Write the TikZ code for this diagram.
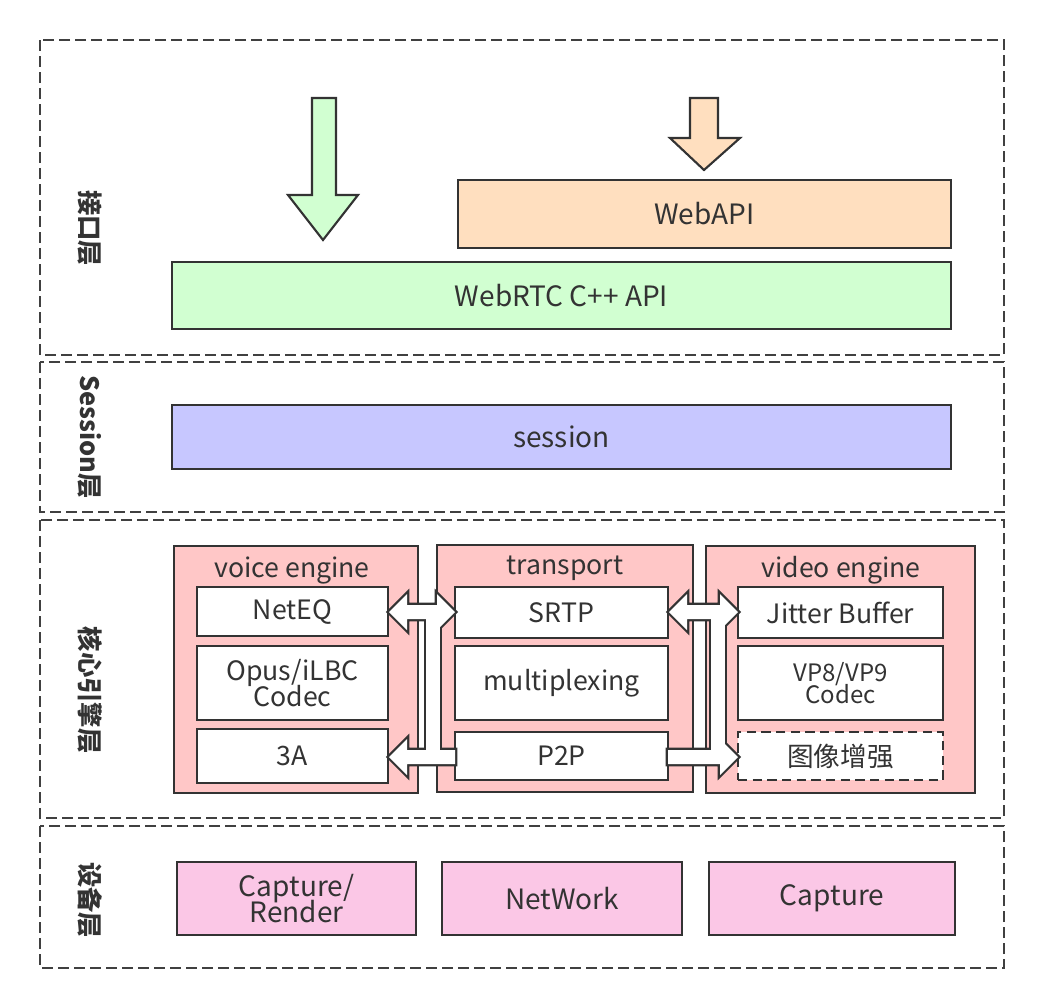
\documentclass[tikz,border=0pt]{standalone}
\usepackage{fontspec}
\setmainfont{Noto Sans CJK SC}
\begin{document}
\begin{tikzpicture}[x=0.75pt,y=-0.75pt,
  layer/.style={draw=black!75,line width=1.6pt,dash pattern=on 8pt off 4pt},
  box/.style={draw=black!80,line width=1.8pt,text=black!80,font=\fontsize{21}{24}\selectfont,align=center},
  ibox/.style={box,fill=white,font=\fontsize{20}{23}\selectfont},
  lbl/.style={rotate=-90,font=\bfseries\fontsize{19}{22}\selectfont,text=black!80},
  panel/.style={draw=black!80,line width=1.8pt,fill=red!22},
  ptitle/.style={font=\fontsize{20}{23}\selectfont,text=black!80}]
\useasboundingbox (0,0) rectangle (1049,982);
% layers
\draw[layer] (40,40) rectangle (1004,355);
\draw[layer] (40,362) rectangle (1004,512);
\draw[layer] (40,520) rectangle (1004,818);
\draw[layer] (40,826) rectangle (1004,968);
\node[lbl] (l1) at (90,228) {接口层};
\node[lbl] (l2) at (90,437) {Session层};
\node[lbl] (l3) at (90,690) {核心引擎层};
\node[lbl] (l4) at (90,900) {设备层};
% block arrows top
\draw[line width=1.6pt,draw=black!80,fill=green!18!white,line join=miter]
 (312,98)--(336,98)--(336,195)--(358,195)--(323,240)--(288,195)--(312,195)--cycle;
\draw[line width=1.6pt,draw=black!80,fill=orange!25!white,line join=miter]
 (690,98)--(718,98)--(718,138)--(740,138)--(704,170)--(670,138)--(690,138)--cycle;
\node[box,fill=orange!25!white,minimum width=493*0.75pt,minimum height=68*0.75pt] (webapi) at (704.5,214) {WebAPI};
\node[box,fill=green!18!white,minimum width=779*0.75pt,minimum height=67*0.75pt] (webrtc) at (561.5,295.5) {WebRTC C++ API};
\node[box,fill=blue!22!white,minimum width=779*0.75pt,minimum height=64*0.75pt] (session) at (561.5,437) {session};
% panels
\draw[panel] (174,546) rectangle (418,793);
\draw[panel] (437,545) rectangle (693,792);
\draw[panel] (706,546) rectangle (975,793);
\node[ptitle] (tv) at (292,570) {voice engine};
\node[ptitle] (tt) at (565,568) {transport};
\node[ptitle] (tvi) at (841,570) {video engine};
\node[ibox,minimum width=191*0.75pt,minimum height=49*0.75pt] (neteq) at (292.5,611.5) {NetEQ};
\node[ibox,minimum width=191*0.75pt,minimum height=74*0.75pt] (opus) at (292.5,683) {Opus/iLBC\\[-4pt]Codec};
\node[ibox,minimum width=191*0.75pt,minimum height=54*0.75pt] (a3) at (292.5,756) {3A};
\node[ibox,minimum width=213*0.75pt,minimum height=51*0.75pt] (srtp) at (561.5,612.5) {SRTP};
\node[ibox,minimum width=213*0.75pt,minimum height=74*0.75pt] (mux) at (561.5,683) {multiplexing};
\node[ibox,minimum width=213*0.75pt,minimum height=48*0.75pt] (p2p) at (561.5,756) {P2P};
\node[ibox,minimum width=205*0.75pt,minimum height=51*0.75pt] (jit) at (840.5,612.5) {Jitter Buffer};
\node[ibox,minimum width=205*0.75pt,minimum height=74*0.75pt,font=\fontsize{18}{21}\selectfont] (vp) at (840.5,683) {VP8/VP9\\[-4pt]Codec};
\node[ibox,dash pattern=on 7pt off 4pt,minimum width=205*0.75pt,minimum height=48*0.75pt] (enh) at (840.5,756) {图像增强};
% connector arrows (union outline)
\newcommand\arrshapes[1]{%
 \path[#1] (389,612)--(407,594)--(407,605)--(437,605)--(437,594)--(455,612)--(437,630)--(437,619)--(407,619)--(407,630)--cycle;
 \path[#1] (426,612) rectangle (440,757);
 \path[#1] (389,757)--(407,739)--(407,750)--(455,750)--(455,764)--(407,764)--(407,775)--cycle;
 \path[#1] (669,612)--(687,594)--(687,605)--(720,605)--(720,594)--(738,612)--(720,630)--(720,619)--(687,619)--(687,630)--cycle;
 \path[#1] (711,612) rectangle (725,757);
 \path[#1] (668,750)--(720,750)--(720,739)--(738,757)--(720,775)--(720,764)--(668,764)--cycle;
}
\arrshapes{draw=black!80,line width=3.4pt,line join=miter}
\arrshapes{fill=white}
% device layer
\node[box,fill=magenta!22!white,minimum width=239*0.75pt,minimum height=73*0.75pt] (cr) at (296.5,898.5) {Capture/\\[-4pt]Render};
\node[box,fill=magenta!22!white,minimum width=240*0.75pt,minimum height=73*0.75pt] (nw) at (562,898.5) {NetWork};
\node[box,fill=magenta!22!white,minimum width=246*0.75pt,minimum height=73*0.75pt] (cap) at (832,898.5) {Capture};
\end{tikzpicture}
\end{document}
